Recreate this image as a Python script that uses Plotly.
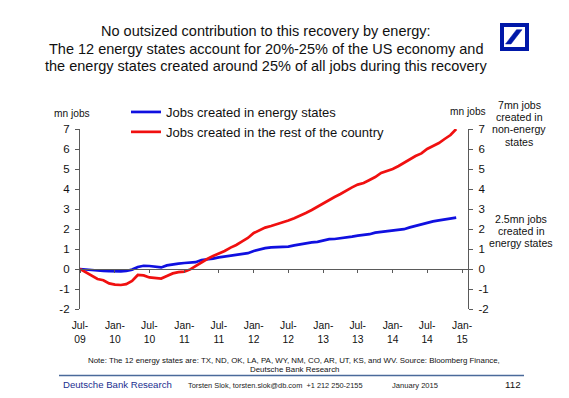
import pandas as pd
import plotly.graph_objects as go

# ---- data (mn jobs, cumulative since Jul-2009, monthly) ----
start_month = "2009-07-01"
energy_states = [
    0.00, -0.03, -0.06, -0.09, -0.10, -0.11, -0.12, -0.12, -0.10, -0.03,
    0.10, 0.16, 0.15, 0.13, 0.08, 0.18, 0.24, 0.27, 0.30, 0.33,
    0.34, 0.45, 0.48, 0.52, 0.58, 0.62, 0.66, 0.70, 0.74, 0.79,
    0.90, 0.98, 1.04, 1.08, 1.10, 1.10, 1.12, 1.18, 1.24, 1.30,
    1.33, 1.36, 1.42, 1.49, 1.50, 1.53, 1.56, 1.62, 1.67, 1.70,
    1.74, 1.82, 1.86, 1.88, 1.95, 1.99, 1.99, 2.08, 2.16, 2.24,
    2.30, 2.38, 2.43, 2.48, 2.53, 2.57,
]
rest_of_country = [
    0.00, -0.18, -0.35, -0.50, -0.56, -0.72, -0.78, -0.80, -0.76, -0.60,
    -0.30, -0.32, -0.42, -0.46, -0.48, -0.35, -0.22, -0.16, -0.13, -0.02,
    0.15, 0.36, 0.50, 0.65, 0.76, 0.90, 1.07, 1.20, 1.38, 1.55,
    1.80, 1.95, 2.07, 2.15, 2.24, 2.30, 2.42, 2.54, 2.66, 2.80,
    2.95, 3.12, 3.30, 3.45, 3.60, 3.75, 3.92, 4.08, 4.22, 4.30,
    4.45, 4.60, 4.80, 4.90, 5.00, 5.15, 5.30, 5.50, 5.65, 5.78,
    6.00, 6.15, 6.30, 6.50, 6.70, 7.00,
]
series_names = ["Jobs created in energy states", "Jobs created in the rest of the country"]
tick_dates = ["2009-07-01", "2010-01-01", "2010-07-01", "2011-01-01", "2011-07-01", "2012-01-01",
              "2012-07-01", "2013-01-01", "2013-07-01", "2014-01-01", "2014-07-01", "2015-01-01"]
tick_labels = ["Jul-<br>09", "Jan-<br>10", "Jul-<br>10", "Jan-<br>11", "Jul-<br>11", "Jan-<br>12",
               "Jul-<br>12", "Jan-<br>13", "Jul-<br>13", "Jan-<br>14", "Jul-<br>14", "Jan-<br>15"]
y_ticks = [-2, -1, 0, 1, 2, 3, 4, 5, 6, 7]

dates = pd.date_range(start_month, periods=len(energy_states), freq="MS")

W, H = 569, 398
L, R, T, B = 72, 109, 121, 97
PW, PH = W - L - R, H - T - B
FONT = "Arial, Liberation Sans, sans-serif"
AX = "#5a5a5a"
BLUE = "#1010e0"
RED = "#f01010"
DB = "#0018A8"


def px(X):
    return (X - L) / PW


def py(Y):
    return (H - B - Y) / PH


fig = go.Figure()
fig.add_trace(go.Scatter(x=dates, y=energy_states, name=series_names[0], mode="lines",
                         line=dict(color=BLUE, width=2.7), xaxis="x", yaxis="y"))
fig.add_trace(go.Scatter(x=dates, y=rest_of_country, name=series_names[1], mode="lines",
                         line=dict(color=RED, width=2.7), xaxis="x2", yaxis="y2"))

yax = dict(range=[-2, 7], tickvals=y_ticks, ticktext=[str(v) for v in y_ticks],
           ticks="outside", ticklen=4, tickcolor=AX, ticklabelstandoff=3,
           showline=True, linecolor=AX, linewidth=1.3, showgrid=False,
           zeroline=False, tickfont=dict(family=FONT, size=11.5, color="#111"))
xrange_ = ["2009-07-01", "2015-02-01"]

fig.update_layout(
    width=W, height=H,
    margin=dict(l=L, r=R, t=T, b=B, autoexpand=False),
    paper_bgcolor="white", plot_bgcolor="white",
    font=dict(family=FONT, color="#111"),
    xaxis=dict(type="date", range=xrange_, tickvals=tick_dates, ticktext=tick_labels,
               ticks="", showline=False, showgrid=False, zeroline=False,
               tickfont=dict(family=FONT, size=10.3, color="#111"), ticklabelstandoff=9),
    xaxis2=dict(type="date", range=xrange_, tickvals=tick_dates, overlaying="x",
                anchor="free", position=py(261.0), side="bottom",
                ticks="outside", ticklen=3, tickcolor=AX, showticklabels=False,
                showline=True, linecolor=AX, linewidth=1.3, showgrid=False, zeroline=False),
    yaxis=dict(**yax, side="left"),
    yaxis2=dict(**yax, side="right", overlaying="y", anchor="x"),
    showlegend=True,
    legend=dict(xref="container", yref="container", x=118 / W, y=1 - 89 / H,
                xanchor="left", yanchor="top", bgcolor="rgba(0,0,0,0)",
                font=dict(family=FONT, size=13, color="#111"), tracegroupgap=0),
)


def text(t, X, Y, size, anchor="center", color="#111"):
    fig.add_annotation(xref="paper", yref="paper", showarrow=False, xanchor=anchor, yanchor="middle",
                       x=px(X), y=py(Y), text=t, font=dict(family=FONT, size=size, color=color))


# title
text("No outsized contribution to this recovery by energy:", 258, 23.5, 14.5)
text("The 12 energy states account for 20%-25% of the US economy and", 258, 41, 14.5)
text("the energy states created around 25% of all jobs during this recovery", 258, 58.5, 14.5)

# axis units
text("mn jobs", 64, 105, 10.2)
text("mn jobs", 460, 104, 10.2)

# right-side notes
for i, t in enumerate(["7mn jobs", "created in", "non-energy", "states"]):
    text(t, 511, 97 + 12.2 * i, 10.6)
for i, t in enumerate(["2.5mn jobs", "created in", "energy states"]):
    text(t, 513, 211 + 12.2 * i, 10.6)

# footer
text("Note: The 12 energy states are: TX, ND, OK, LA, PA, WY, NM, CO, AR, UT, KS, and WV. Source: Bloomberg Finance,",
     286, 352.5, 7.9)
text("Deutsche Bank Research", 286, 361.5, 7.9)
text("Deutsche Bank Research", 53, 376, 9.6, anchor="left", color="#1b2f8f")
text("Torsten Slok, torsten.slok@db.com&nbsp;&nbsp;+1 212 250-2155", 178, 377, 7.4, anchor="left", color="#222")
text("January 2015", 382, 377, 7.6, anchor="left", color="#222")
text("112", 515, 376.5, 9.8, anchor="right")

shapes = [
    dict(type="line", xref="paper", yref="paper", x0=px(51), x1=px(516), y0=py(367.5), y1=py(367.5),
         line=dict(color="#4a6a9a", width=1.3)),
    # logo: square outline + slash
    dict(type="rect", xref="paper", yref="paper", x0=px(494), x1=px(519), y0=py(17), y1=py(41),
         line=dict(color=DB, width=4), fillcolor="white"),
    dict(type="path", xref="paper", yref="paper",
         path=f"M {px(497.5)} {py(36)} L {px(503)} {py(36)} L {px(514)} {py(21.7)} L {px(508.5)} {py(21.7)} Z",
         line=dict(color=DB, width=0.5), fillcolor=DB),
]
fig.update_layout(shapes=shapes)

fig.write_html("out.html")
